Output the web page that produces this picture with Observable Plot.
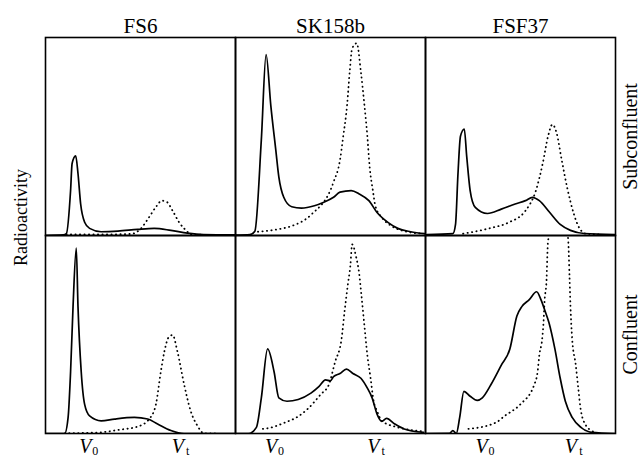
<!DOCTYPE html>
<html>
<head>
<meta charset="utf-8">
<script src="https://cdn.jsdelivr.net/npm/d3@7"></script>
<script src="https://cdn.jsdelivr.net/npm/@observablehq/plot@0.6"></script>
<style>
  html, body { margin: 0; padding: 0; background: #fff; }
  #chart svg { display: block; }
</style>
</head>
<body>
<div id="chart"></div>
<script>
// Facet categories
const columns = ["FS6", "SK158b", "FSF37"];
const rows = ["Subconfluent", "Confluent"];

// x: elution position (% of panel range), y: radioactivity (% of panel scale)
// FS6, subconfluent
const fs6SubSolid = [[0,0],[9.4,0.3],[11,1],[13.2,22.7],[14,36.4],[15.9,40.2],[17.1,31.3],[18.5,15.9],[20.6,6.7],[23.2,3.6],[29.3,1.9],[38.1,2.2],[48.5,3.1],[57.2,3.6],[66,2.6],[74.7,1.2],[83.2,0.5],[100,0.3]];
const fs6SubDotted = [[11,0.5],[29.3,0.5],[45,0.8],[50.3,3.6],[53.8,8.2],[58.6,15],[61.1,17.6],[63.9,16.9],[66.9,12.5],[70.3,6.7],[74.7,1.9],[76.4,0.5],[89.5,0.3]];
// SK158b, subconfluent
const skSubSolid = [[0,0.2],[7.6,0.5],[10.2,2.2],[13.6,48.4],[16.1,91.4],[18.6,65.5],[21.2,43.2],[22.8,29.6],[25.4,19.3],[29.6,14.5],[34.7,13.8],[41.5,15],[46.5,16.8],[51.6,19.3],[55,21.9],[60.9,22.7],[65.1,21],[70.2,17.6],[74.5,11.6],[80.4,6.5],[85.4,3.6],[92.2,1.9],[99.8,0.9]];
const skSubDotted = [[11.8,1.9],[22,3.1],[29.6,4.8],[39.7,10.4],[51.6,27],[55,38.1],[56.7,50.1],[58.7,65.5],[60.1,82.6],[61.4,94.5],[63.8,97.1],[66,82.6],[67.7,67.2],[69.4,50.1],[70.6,34.7],[72.3,22.7],[73.6,15],[77,9.1],[82.1,4.8],[88.8,2.2],[99,0.9]];
// FSF37, subconfluent
const fsfSubSolid = [[0.7,0.5],[14.4,0.9],[15.8,5.6],[17.1,31.3],[18.4,50.1],[20.4,53.8],[21.7,39.8],[23.5,22.7],[26.2,14.2],[32.6,11.1],[39.9,13.3],[47.2,15.9],[52.6,17.6],[56.3,19.3],[59.9,17.6],[65.4,11.6],[70.9,5.6],[76.3,2.6],[83.6,1],[100,0.5]];
const fsfSubDotted = [[19.8,0.9],[33.5,3.6],[43.6,6.5],[52.6,12.5],[58.1,22.7],[61.7,36.4],[64.5,50.1],[66.8,56.1],[69,51.8],[71.7,38.1],[74.5,24.5],[78.1,10.8],[80.9,3.9],[84.5,0.9],[91.8,0.5]];
// FS6, confluent
const fs6ConSolid = [[0,0],[10.1,0],[11.9,8.1],[13.2,31.2],[14.5,64.2],[16.2,93.6],[17.1,64.2],[18.8,31.2],[20.6,14.7],[23.2,8.9],[29.3,6.4],[36.3,7.3],[46.8,8.1],[53.8,7.3],[59,4.8],[66,1.5],[72.9,0],[100,0]];
const fs6ConDotted = [[10.1,0.1],[29.3,0.6],[38.1,1.8],[48.5,3.5],[54.6,7.3],[58.1,14.7],[60.7,31.2],[62.5,41.1],[65.1,49],[66.9,49.7],[69.5,41.1],[73,24.6],[76.4,11.4],[79.9,4],[83.4,0.1],[89.5,0]];
// SK158b, confluent
const skConSolid = [[0,0],[6.8,0],[11,3.1],[13.6,18],[16.9,42.7],[20.3,31.2],[22.8,18],[27.1,16.3],[33,17.2],[39.7,20.4],[44,23.8],[47.4,27.1],[49.9,26.6],[51.6,28.7],[55,30.3],[58.4,32.5],[61.8,30.3],[66,27.9],[69.4,22.9],[71.9,18],[74.5,9.8],[77,6.1],[79.5,7.6],[83.8,4.8],[88.8,2.3],[99,0.6]];
const skConDotted = [[14.4,2.3],[17.8,2.8],[26.2,5.6],[32.1,8.1],[38.1,12.5],[44.8,19.7],[49.1,24.6],[52.4,36.1],[55.8,47.7],[57.5,62.5],[59.2,75.7],[60.4,84.2],[61.4,95.5],[63.5,89.1],[65.1,80.7],[66,72.4],[67.7,55.9],[69.4,39.5],[71.1,27.9],[72.7,16.3],[74.5,11.4],[77,6.4],[85.4,3.1],[92.2,1.8],[99,1.1]];
// FSF37, confluent
const fsfConSolid = [[0,0],[12.6,0.1],[14.4,1.5],[16.2,0],[18,8.1],[20.2,21.3],[23.5,18.8],[27.2,16.7],[29.9,18],[34.4,24.6],[39.9,34.5],[44.4,42.7],[48.1,59.3],[50.8,64.2],[54.5,67.5],[58.5,71.6],[60.8,67.5],[62.7,62.5],[65,55.9],[68.1,42.7],[70.9,27.9],[73.6,16.3],[77.2,8.1],[81.8,3.1],[87.3,0.6],[100,0]];
const fsfConDotted = [[22.6,2.3],[37.2,5.6],[41.7,8.9],[49.9,14.7],[57.2,24.6],[59,31.2],[59.9,39.5],[61.4,47.7],[62.1,55.9],[62.7,67.5],[63.6,75.7],[64.5,97.2],[69.4,113],[75,98.9],[75.8,79.2],[76.3,64.4],[77.2,47.7],[79.1,34.5],[80.4,22.9],[81.8,11.4],[84.5,4],[87.3,1.5],[91.8,0]];

// Tick labels (V0 and Vt) per column
const tickLabels = ["0", "t"];
const tickPositions = {FS6: [22.5, 71.2], SK158b: [20.3, 74.1], FSF37: [31.1, 78.1]};

const series = [
  ["FS6", "Subconfluent", "solid", fs6SubSolid],
  ["FS6", "Subconfluent", "dotted", fs6SubDotted],
  ["SK158b", "Subconfluent", "solid", skSubSolid],
  ["SK158b", "Subconfluent", "dotted", skSubDotted],
  ["FSF37", "Subconfluent", "solid", fsfSubSolid],
  ["FSF37", "Subconfluent", "dotted", fsfSubDotted],
  ["FS6", "Confluent", "solid", fs6ConSolid],
  ["FS6", "Confluent", "dotted", fs6ConDotted],
  ["SK158b", "Confluent", "solid", skConSolid],
  ["SK158b", "Confluent", "dotted", skConDotted],
  ["FSF37", "Confluent", "solid", fsfConSolid],
  ["FSF37", "Confluent", "dotted", fsfConDotted]
];
const table = series.flatMap(([col, row, kind, pts]) =>
  pts.map(([x, y]) => ({col, row, kind, key: col + "|" + row + "|" + kind, x, y})));
const solid = table.filter(d => d.kind === "solid");
const dotted = table.filter(d => d.kind === "dotted");

const ticks = columns.flatMap(col => tickPositions[col].map((x, i) => ({col, row: "Confluent", x, sub: tickLabels[i]})));

const font = "Liberation Serif, Times New Roman, serif";

const chart = Plot.plot({
  width: 643,
  height: 459,
  marginLeft: 44,
  marginRight: 28,
  marginTop: 36,
  marginBottom: 26,
  style: {fontFamily: font, background: "#fff", color: "#000"},
  fx: {domain: columns, padding: 0, axis: null},
  fy: {domain: rows, padding: 0, axis: null},
  x: {domain: [0, 100], axis: null},
  y: {domain: [0, 100], axis: null},
  marks: [
    Plot.line(dotted, {x: "x", y: "y", fx: "col", fy: "row", z: "key", stroke: "#000", strokeWidth: 1.8,
      strokeDasharray: "0.3,4.2", strokeLinecap: "round", curve: "monotone-x", clip: "frame"}),
    Plot.line(solid, {x: "x", y: "y", fx: "col", fy: "row", z: "key", stroke: "#000", strokeWidth: 1.7,
      curve: "monotone-x", clip: "frame"}),
    Plot.frame({stroke: "#000", strokeWidth: 1.6}),
    // column titles
    Plot.text(columns, {fx: d => d, fy: () => "Subconfluent", text: d => d, frameAnchor: "top",
      lineAnchor: "bottom", dy: -5, fontSize: 21}),
    // row labels
    Plot.text(rows, {fy: d => d, fx: () => "FSF37", text: d => d, frameAnchor: "right", rotate: -90,
      textAnchor: "middle", lineAnchor: "middle", dx: 15, fontSize: 20}),
    // x tick labels: italic V with subscript
    Plot.text(ticks, {fx: "col", fy: "row", x: "x", text: () => "V", frameAnchor: "bottom", lineAnchor: "top",
      dy: 5, dx: -3, fontSize: 20, fontStyle: "italic"}),
    Plot.text(ticks, {fx: "col", fy: "row", x: "x", text: "sub", frameAnchor: "bottom", lineAnchor: "top",
      dy: 13, dx: 7, fontSize: 12}),
    // y label
    Plot.text(["Radioactivity"], {facet: "super", frameAnchor: "left", rotate: -90, text: d => d,
      textAnchor: "middle", lineAnchor: "middle", dx: -24, dy: -18, fontSize: 18})
  ]
});
document.getElementById("chart").appendChild(chart);
</script>
</body>
</html>
